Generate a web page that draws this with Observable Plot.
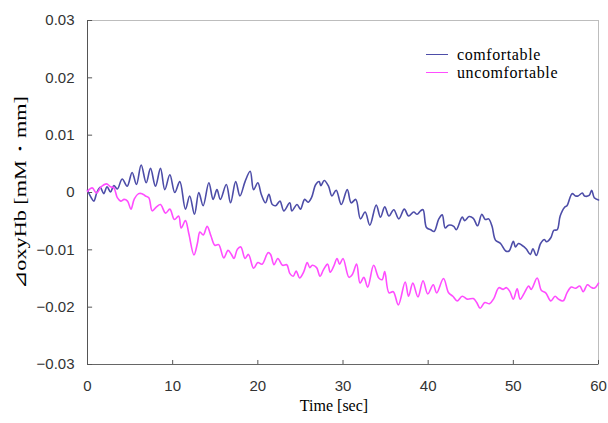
<!DOCTYPE html>
<html><head><meta charset="utf-8">
<script src="https://cdn.jsdelivr.net/npm/d3@7"></script>
<script src="https://cdn.jsdelivr.net/npm/@observablehq/plot@0.6"></script>
<style>
body{margin:0;background:#fff;}
#wrap{position:relative;width:608px;height:423px;}
#legend{position:absolute;left:426px;top:46px;font-family:"Liberation Serif","Times New Roman",serif;font-size:16px;letter-spacing:0.6px;color:#000;}
.row{display:flex;align-items:center;height:17.7px;white-space:nowrap;}
.sw{width:22px;height:0;border-top:1.6px solid;margin-right:9px;}
</style></head><body><div id="wrap"></div><script>
const seriesNames = ["comfortable", "uncomfortable"];
const seriesColors = ["#4d4da8", "#ff4dff"];
const xTicks = [0, 10, 20, 30, 40, 50, 60];
const yTicks = [-0.03, -0.02, -0.01, 0, 0.01, 0.02, 0.03];
const xTitle = "Time [sec]";
const yTitle = "⊿oxyHb [mM・mm]";

// [time (sec), ΔoxyHb]
const comfortable = [
 [0,0.0004],[0.4,-0.0008],[0.75,-0.0015],[1.1,0.0],[1.5,0.0009],[1.9,-0.0002],[2.3,0.0010],[2.7,0.0001],[3.1,0.0012],[3.5,0.0006],
 [4.07,0.00235],[4.66,0.0011],[5.24,0.0035],[5.75,0.0014],[6.3,0.0048],[6.89,0.0017],[7.4,0.0042],[7.98,0.0011],[8.57,0.0042],[9.08,0.0005],
 [9.67,0.0031],[10.25,0.0],[10.84,0.0019],[11.5,-0.0029],[12.0,-0.0006],[12.56,-0.0038],[13.07,0.0],[13.58,-0.0023],[14.25,0.0017],[14.75,-0.0012],
 [15.2,0.0005],[15.6,-0.0012],[16.3,0.0014],[16.8,-0.0018],[17.4,0.0019],[17.9,-0.0006],[18.5,0.0019],[19.1,0.0037],[19.5,0.0005],[20.0,0.0017],
 [20.4,-0.0003],[20.9,-0.0018],[21.3,-0.0003],[21.7,-0.0021],[22.1,-0.0023],[22.6,-0.0015],[23.05,-0.0032],[23.75,-0.0018],[24.0,-0.0032],[24.6,-0.0021],
 [25.0,-0.0029],[25.5,-0.0012],[25.9,-0.0017],[26.3,-0.0009],[26.8,0.0014],[27.2,0.0019],[27.4,0.0012],[27.8,0.0021],[28.3,0.0011],[28.7,-0.0006],
 [29.2,0.0004],[29.8,-0.0021],[30.5,0.0005],[30.96,-0.0018],[31.5,-0.0012],[32.05,-0.0046],[32.6,-0.0034],[33.15,-0.0057],[33.9,-0.0022],[34.4,-0.0043],
 [34.9,-0.0025],[35.4,-0.0041],[35.96,-0.0030],[36.55,-0.0046],[37.2,-0.0029],[37.7,-0.0041],[38.3,-0.0034],[38.7,-0.0038],[39.1,-0.0032],[39.4,-0.0030],
 [39.8,-0.0061],[40.3,-0.0065],[40.7,-0.0068],[41.25,-0.0046],[41.65,-0.0039],[42.0,-0.0062],[42.4,-0.0057],[43.0,-0.0059],[43.3,-0.0065],[44.0,-0.0043],
 [44.3,-0.0049],[44.8,-0.0042],[45.3,-0.0045],[45.8,-0.0058],[46.3,-0.0038],[46.7,-0.0047],[47.1,-0.0046],[47.5,-0.0059],[47.9,-0.0083],[48.5,-0.0089],
 [49.1,-0.0102],[49.5,-0.0102],[50.0,-0.0085],[50.25,-0.0095],[50.6,-0.0089],[51.0,-0.0092],[51.5,-0.0098],[52.0,-0.0108],[52.3,-0.0098],[52.7,-0.0110],
 [53.2,-0.0089],[53.65,-0.0082],[53.9,-0.0086],[54.4,-0.0079],[54.75,-0.0066],[55.15,-0.0065],[55.5,-0.0041],[56.0,-0.0026],[56.3,-0.0023],[56.9,-0.0002],
 [57.3,-0.0006],[57.6,-0.0006],[58.1,-0.0001],[58.35,-0.0006],[58.9,-0.0005],[59.2,0.0004],[59.5,-0.0009],[60.0,-0.0013]
];
const uncomfortable = [
 [0,0.0002],[0.55,0.0008],[1.06,-0.0001],[1.6,0.0010],[2.23,0.0015],[2.7,0.0010],[3.1,0.0008],[3.5,-0.0009],[3.9,-0.0015],[4.3,-0.0012],
 [4.7,-0.0015],[5.1,-0.0029],[5.5,-0.0011],[6.0,-0.0002],[6.4,-0.0002],[6.8,-0.0006],[7.2,-0.0009],[7.6,-0.0032],[8.1,-0.0025],[8.57,-0.0021],
 [9.16,-0.0036],[9.67,-0.0029],[10.2,-0.0047],[10.7,-0.0041],[11.0,-0.0062],[11.5,-0.0049],[11.9,-0.0072],[12.5,-0.0109],[12.9,-0.0089],[13.2,-0.0069],
 [13.6,-0.0074],[14.05,-0.0059],[14.5,-0.0076],[14.95,-0.0092],[15.4,-0.0091],[16.0,-0.0114],[16.5,-0.0101],[16.9,-0.0108],[17.2,-0.0115],[17.6,-0.0099],
 [18.0,-0.0095],[18.5,-0.0115],[18.9,-0.0108],[19.5,-0.0132],[20.0,-0.0122],[20.5,-0.0125],[21.2,-0.0105],[21.5,-0.0108],[21.9,-0.0126],[22.35,-0.0115],
 [22.9,-0.0127],[23.4,-0.0126],[23.75,-0.0141],[24.15,-0.0146],[24.5,-0.0137],[24.9,-0.0149],[25.4,-0.0138],[25.8,-0.0122],[26.1,-0.0131],[26.4,-0.0127],
 [26.9,-0.0131],[27.3,-0.0146],[27.7,-0.0135],[28.2,-0.0125],[28.5,-0.0139],[28.9,-0.0129],[29.3,-0.0115],[29.6,-0.0125],[30.0,-0.0115],[30.7,-0.0148],
 [31.1,-0.0143],[31.6,-0.0125],[32.0,-0.0158],[32.45,-0.0148],[32.9,-0.0165],[33.6,-0.0127],[34.2,-0.0149],[34.6,-0.0152],[34.9,-0.0138],[35.4,-0.0175],
 [35.9,-0.0173],[36.5,-0.0196],[37.3,-0.0156],[37.7,-0.0181],[38.2,-0.0158],[38.8,-0.0182],[39.4,-0.0154],[39.95,-0.0177],[40.6,-0.0161],[41.0,-0.0175],
 [41.8,-0.0150],[42.4,-0.0175],[42.9,-0.0181],[43.4,-0.0189],[44.0,-0.0181],[44.6,-0.0186],[45.3,-0.0185],[45.7,-0.0192],[46.1,-0.0202],[46.65,-0.0192],
 [47.2,-0.0194],[47.7,-0.0185],[48.3,-0.0166],[48.8,-0.0169],[49.2,-0.0166],[49.6,-0.0173],[50.0,-0.0186],[50.45,-0.0168],[50.8,-0.0186],[51.3,-0.0175],
 [51.8,-0.0163],[52.1,-0.0169],[52.8,-0.0149],[53.3,-0.0171],[53.8,-0.0175],[54.4,-0.0189],[54.9,-0.0181],[55.3,-0.0186],[55.85,-0.0189],[56.3,-0.0175],
 [56.8,-0.0165],[57.3,-0.0167],[57.8,-0.0163],[58.2,-0.0173],[58.7,-0.0161],[59.1,-0.0165],[59.5,-0.0167],[60.0,-0.0158]
];

const seriesData = [comfortable, uncomfortable];
const data = seriesData.flatMap((arr, i) => arr.map(([t, v]) => ({t, v, s: seriesNames[i]})));

const yFmt = d => d === 0 ? "0" : (d < 0 ? "\u2212" : "") + Math.abs(d).toFixed(2);
const titleLen = 193;

const chart = Plot.plot({
  width: 608, height: 423,
  marginLeft: 87, marginRight: 10, marginTop: 20, marginBottom: 59,
  style: {fontFamily: "'Liberation Sans', Arial, sans-serif", fontSize: "15px", color: "#333", background: "#fff", overflow: "visible"},
  x: {domain: [0, 60]},
  y: {domain: [-0.03, 0.03]},
  color: {domain: seriesNames, range: seriesColors},
  marks: [
    Plot.frame({stroke: "#bdbdbd"}),
    Plot.ruleX([0], {stroke: "#555"}),
    Plot.ruleY([-0.03], {stroke: "#666"}),
    Plot.ruleY(yTicks, {x1: 0, x2: 0.6, stroke: "#555"}),
    Plot.ruleX(xTicks, {y1: -0.03, y2: -0.0293, stroke: "#555"}),
    Plot.axisX({ticks: xTicks, tickSize: 0, tickPadding: 16, tickFormat: d => String(d), label: null}),
    Plot.axisY({ticks: yTicks, tickSize: 0, tickPadding: 13, tickFormat: yFmt, label: null}),
    Plot.line(data, {x: "t", y: "v", z: "s", stroke: "s", strokeWidth: 1.6, curve: "catmull-rom"}),
    Plot.text([xTitle], {frameAnchor: "bottom", dy: 46, dx: -9, fontFamily: "'Liberation Serif', 'Times New Roman', serif", fontSize: 16, fill: "#000"}),
    Plot.text([yTitle], {frameAnchor: "left", dx: -67, dy: titleLen / 2, rotate: -90, textAnchor: "start", fontFamily: "'Liberation Serif', 'Times New Roman', serif", fontSize: 17, fill: "#000", className: "ytitle"})
  ]
});
const wrap = document.getElementById("wrap");
wrap.appendChild(chart);
const yt = chart.querySelector(".ytitle text");
if (yt) { yt.setAttribute("textLength", String(titleLen)); yt.setAttribute("lengthAdjust", "spacingAndGlyphs"); }

const legend = document.createElement("div");
legend.id = "legend";
seriesNames.forEach((n, i) => {
  const row = document.createElement("div");
  row.className = "row";
  const sw = document.createElement("span");
  sw.className = "sw";
  sw.style.borderTopColor = seriesColors[i];
  const tx = document.createElement("span");
  tx.textContent = n;
  row.appendChild(sw); row.appendChild(tx);
  legend.appendChild(row);
});
wrap.appendChild(legend);
</script></body></html>
